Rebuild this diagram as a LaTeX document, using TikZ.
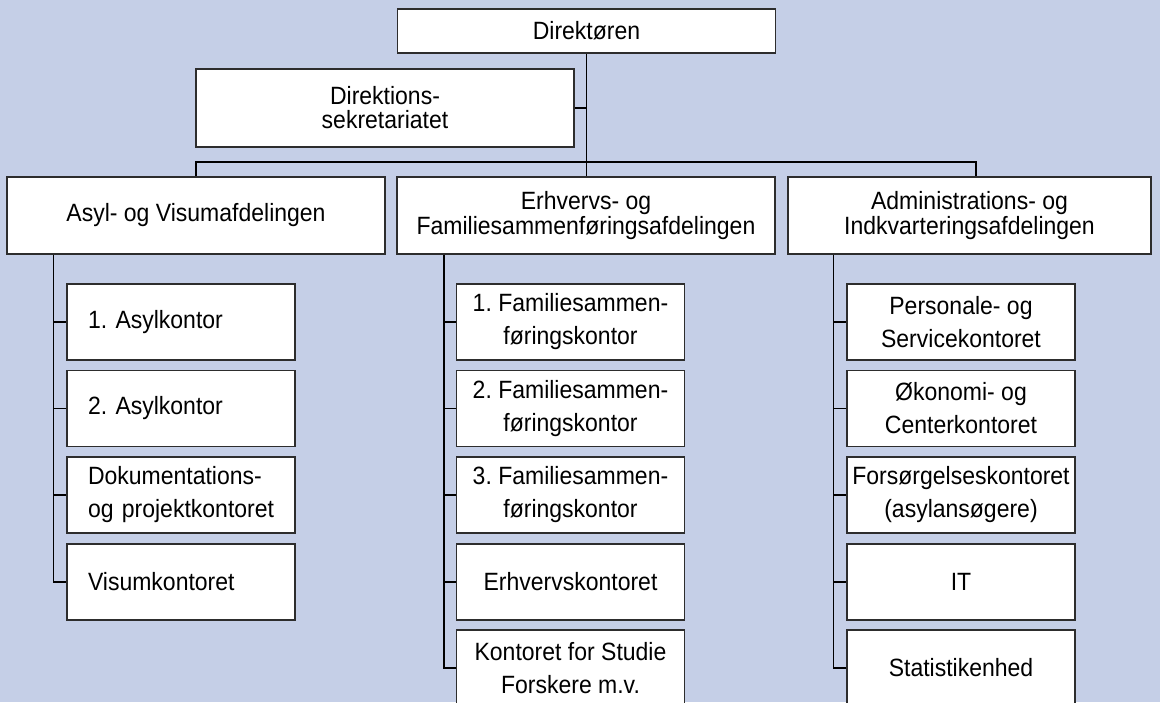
\documentclass[tikz,border=0pt]{standalone}
\usepackage{fontspec}
\setmainfont{Liberation Sans}[FakeStretch=0.92]
\frenchspacing
\definecolor{bg}{RGB}{197,207,231}
\definecolor{edge}{RGB}{45,45,45}
\begin{document}
\begin{tikzpicture}[x=1pt,y=-1pt,
  box/.style={draw=edge,line width=1.3pt,fill=white,inner sep=0pt,align=center,
    font=\fontsize{25}{22}\selectfont},
  topbox/.style={box,minimum width=378pt},
  lvl/.style={box,minimum height=77pt},
  sub/.style={box,minimum width=228pt,minimum height=76pt,font=\fontsize{25}{33}\selectfont},
  subl/.style={sub,align=left,text width=200pt,inner xsep=14pt},
  conn/.style={draw=black,line width=1.3pt}]
\fill[bg] (0,0) rectangle (1160,702);
\clip (0,0) rectangle (1160,702);
% top
\node[topbox,minimum height=44pt] (dir) at (586.5,31) {Direktøren};
\node[topbox,minimum height=78pt,font=\fontsize{25}{24}\selectfont] (sek) at (385,108) {Direktions-\\sekretariatet};
% level
\node[lvl,minimum width=378pt] (asyl) at (196,215.5) {Asyl- og Visumafdelingen};
\node[lvl,minimum width=378pt] (erh) at (586,215.5) {Erhvervs- og\\Familiesammenføringsafdelingen};
\node[lvl,minimum width=363pt] (adm) at (969.5,215.5) {Administrations- og\\Indkvarteringsafdelingen};
% left column
\node[subl] (a1) at (181,322) {\hspace*{7pt}1. Asylkontor};
\node[subl] (a2) at (181,408.5) {\hspace*{7pt}2. Asylkontor};
\node[subl] (a3) at (181,495) {\hspace*{7pt}Dokumentations-\\\hspace*{7pt}\mbox{og projektkontoret}};
\node[subl] (a4) at (181,582) {\hspace*{7pt}Visumkontoret};
% middle column
\node[sub] (e1) at (570.5,322) {1. Familiesammen-\\føringskontor};
\node[sub] (e2) at (570.5,408.5) {2. Familiesammen-\\føringskontor};
\node[sub] (e3) at (570.5,495) {3. Familiesammen-\\føringskontor};
\node[sub] (e4) at (570.5,582) {Erhvervskontoret};
\node[sub] (e5) at (570.5,668) {Kontoret for Studie\\Forskere m.v.};
% right column
\node[sub] (d1) at (961,322) {Personale- og\\Servicekontoret};
\node[sub] (d2) at (961,408.5) {Økonomi- og\\Centerkontoret};
\node[sub] (d3) at (961,495) {Forsørgelseskontoret\\(asylansøgere)};
\node[sub] (d4) at (961,582) {IT};
\node[sub] (d5) at (961,668) {Statistikenhed};
% connectors top
\coordinate (barL) at (196,162);
\coordinate (barR) at (976,162);
\draw[conn] (dir.south) -- (dir.south |- erh.north);
\draw[conn] (sek.east) -- (sek.east -| dir.south);
\draw[conn] (barL |- asyl.north) -- (barL) -- (barR) -- (barR |- adm.north);
% column connectors
\draw[conn] ([xshift=-13pt]a1.west |- asyl.south) -- ([xshift=-13pt]a4.west) -- (a4.west);
\foreach \n in {a1,a2,a3} \draw[conn] ([xshift=-13pt]\n.west) -- (\n.west);
\draw[conn] ([xshift=-12pt]e1.west |- erh.south) -- ([xshift=-12pt]e5.west) -- (e5.west);
\foreach \n in {e1,e2,e3,e4} \draw[conn] ([xshift=-12pt]\n.west) -- (\n.west);
\draw[conn] ([xshift=-13pt]d1.west |- adm.south) -- ([xshift=-13pt]d5.west) -- (d5.west);
\foreach \n in {d1,d2,d3,d4} \draw[conn] ([xshift=-13pt]\n.west) -- (\n.west);
\end{tikzpicture}
\end{document}
